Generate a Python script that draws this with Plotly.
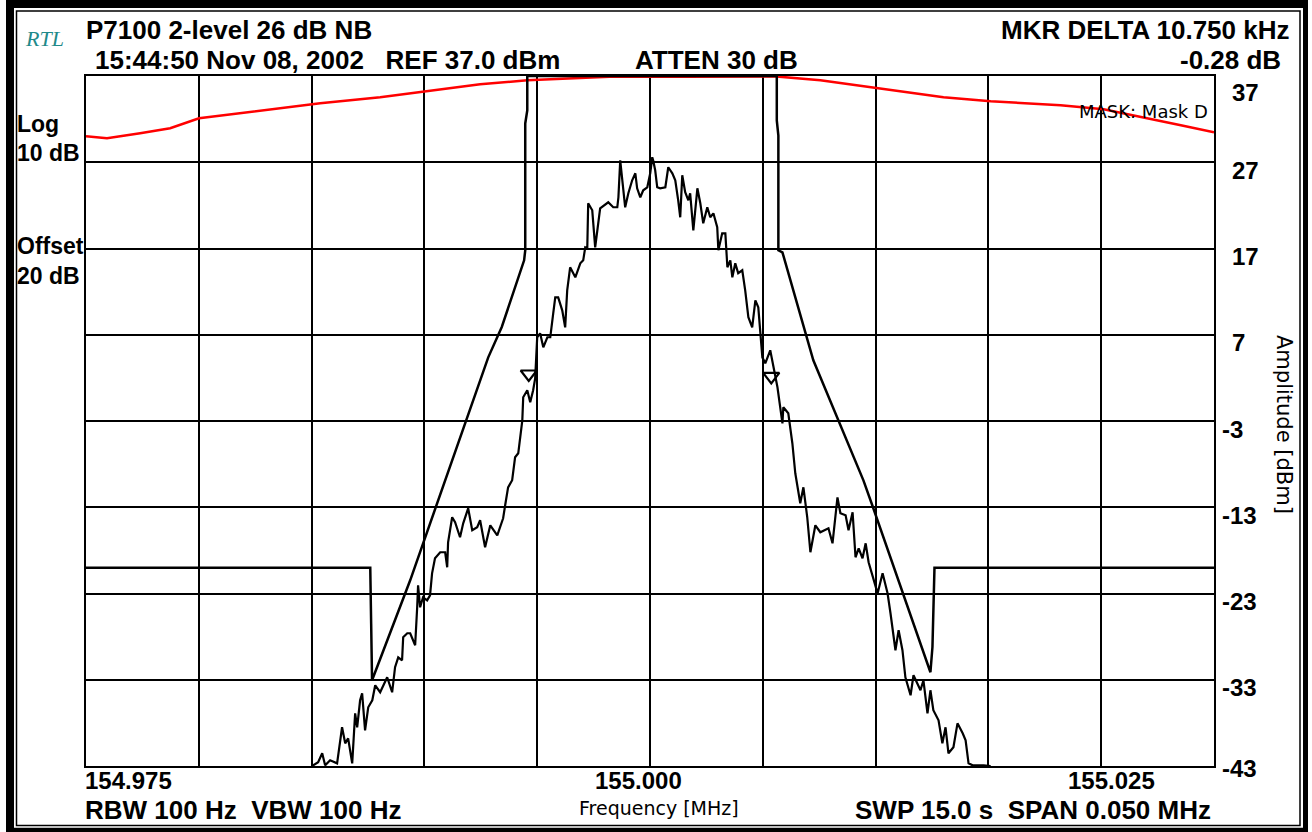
import plotly.graph_objects as go

# Analyzer settings
CENTER_MHZ = 155.000
SPAN_MHZ = 0.050
REF_DBM = 37.0
BOTTOM_DBM = -43.0

# Measured spectrum: offset from centre (kHz) and level (dBm)
trace_khz = [-14.98, -14.71, -14.53, -14.40, -14.18, -13.87, -13.65, -13.51, -13.38, -13.20,
             -13.07, -12.98, -12.85, -12.76, -12.63, -12.49, -12.31, -12.18, -11.96, -11.65,
             -11.43, -11.30, -11.16, -10.99, -10.94, -10.76, -10.63, -10.41, -10.32, -10.28,
             -10.19, -10.06, -9.88, -9.75, -9.66, -9.53, -9.30, -9.08, -8.99, -8.95,
             -8.77, -8.64, -8.42, -8.28, -8.06, -7.88, -7.66, -7.53, -7.31, -7.08,
             -6.77, -6.51, -6.42, -6.29, -6.11, -5.98, -5.84, -5.66, -5.62, -5.44,
             -5.31, -5.18, -5.09, -5.00, -4.87, -4.73, -4.55, -4.42, -4.29, -4.20,
             -4.07, -3.89, -3.76, -3.67, -3.54, -3.31, -3.09, -2.96, -2.87, -2.78,
             -2.74, -2.56, -2.43, -2.29, -2.21, -1.85, -1.63, -1.45, -1.40, -1.32,
             -1.23, -1.18, -1.10, -0.96, -0.79, -0.65, -0.57, -0.43, -0.30, -0.12,
             0.01, 0.10, 0.14, 0.23, 0.32, 0.45, 0.68, 0.81, 0.99, 1.12,
             1.25, 1.34, 1.43, 1.56, 1.70, 1.78, 1.92, 2.10, 2.23, 2.36,
             2.54, 2.67, 2.81, 2.98, 3.03, 3.20, 3.34, 3.43, 3.56, 3.65,
             3.78, 3.91, 4.09, 4.22, 4.36, 4.53, 4.67, 4.80, 4.98, 5.11,
             5.33, 5.47, 5.65, 5.87, 5.91, 6.13, 6.31, 6.44, 6.66, 6.80,
             6.97, 7.11, 7.33, 7.55, 7.91, 8.09, 8.31, 8.44, 8.67, 8.80,
             8.98, 9.11, 9.25, 9.42, 9.56, 9.69, 9.91, 10.09, 10.31, 10.53,
             10.66, 10.88, 11.02, 11.19, 11.32, 11.55, 11.68, 11.99, 12.12, 12.30,
             12.43, 12.56, 12.79, 12.96, 13.10, 13.23, 13.45, 13.63, 13.86, 13.99,
             14.12, 14.30, 14.79, 15.10]
trace_dbm = [-43.0, -42.57, -41.53, -42.92, -42.34, -42.69, -38.51, -40.37, -39.79, -42.69,
             -36.89, -38.51, -35.38, -34.57, -38.86, -36.19, -35.38, -33.64, -34.45, -32.71,
             -34.45, -31.55, -30.40, -30.74, -28.07, -27.61, -27.61, -29.00, -24.60, -22.05,
             -24.60, -23.44, -23.79, -23.21, -20.66, -18.92, -18.22, -18.22, -19.96, -17.06,
             -14.16, -14.74, -16.48, -14.86, -13.12, -15.67, -15.32, -14.51, -17.64, -15.09,
             -16.25, -14.28, -12.77, -10.69, -9.87, -7.21, -6.74, -2.92, -0.25, 0.56,
             -0.83, 0.56, 1.95, 6.71, 7.17, 5.54, 6.71, 6.71, 9.49, 11.34,
             11.34, 9.83, 7.86, 12.15, 14.82, 13.66, 15.28, 15.63, 17.14, 17.03,
             22.24, 21.43, 17.14, 19.92, 21.66, 22.36, 21.78, 21.78, 22.94, 27.23,
             24.56, 23.75, 21.78, 23.40, 24.91, 25.72, 23.98, 22.94, 23.75, 24.10,
             25.72, 27.58, 27.23, 26.07, 24.10, 23.98, 24.10, 26.42, 25.72, 24.91,
             22.59, 20.62, 25.49, 23.52, 22.59, 23.40, 19.11, 23.98, 22.24, 19.92,
             21.78, 20.62, 21.08, 19.46, 16.79, 18.76, 18.76, 14.82, 15.63, 13.66,
             15.28, 14.13, 14.47, 12.15, 9.03, 7.86, 10.99, 10.18, 4.38, 3.69,
             5.20, 3.23, 0.91, -3.27, -1.41, -2.11, -5.58, -9.06, -12.54, -10.69,
             -14.16, -18.22, -15.09, -15.90, -15.44, -17.18, -11.85, -13.70, -13.93, -15.67,
             -13.58, -18.80, -17.76, -18.92, -17.18, -19.38, -21.47, -22.98, -20.66, -22.98,
             -25.29, -29.58, -27.26, -29.58, -32.71, -34.80, -32.48, -34.22, -33.06, -36.89,
             -34.22, -36.54, -37.70, -40.37, -38.51, -41.53, -40.83, -38.05, -39.21, -40.02,
             -42.69, -42.92, -42.92, -43.0]

# Spectral emission mask (Mask D)
mask_khz = [-25.0, -12.40, -12.36, -12.32, -10.63, -9.08, -7.17, -6.57, -5.75, -5.58,
            -5.53, -5.53, -5.44, -5.44, 5.62, 5.62, 5.69, 5.69, 5.87, 7.24,
            9.46, 9.90, 12.43, 12.52, 12.61, 25.0]
mask_dbm = [-20.0, -20.0, -26.5, -33.06, -21.47, -9.88, 4.38, 7.90, 14.13, 15.63,
            16.79, 31.5, 33.0, 37.0, 37.0, 31.86, 30.1, 16.79, 16.56, 4.04,
            -9.88, -13.12, -32.13, -29.2, -20.0, -20.0]

# Upper limit curve
limit_khz = [-25.0, -24.07, -22.60, -21.27, -19.99, -17.28, -14.62, -11.96, -9.92, -7.53,
             -5.44, -1.54, 1.56, 5.60, 7.55, 10.09, 13.01, 15.10, 18.20, 20.11,
             21.75, 23.53, 25.0]
limit_dbm = [30.01, 29.78, 30.36, 30.94, 32.10, 33.02, 33.84, 34.53, 35.23, 36.04,
             36.50, 36.95, 36.90, 36.95, 36.50, 35.57, 34.53, 34.07, 33.60, 33.14,
             32.21, 31.29, 30.47]

# Delta marker pair
marker_khz = [-5.375, 5.375]
marker_dbm = [2.45, 2.17]

freq_labels = ["154.975", "155.000", "155.025"]
freq_label_pos = [154.975, 155.000, 155.025]
amp_ticks = [37, 27, 17, 7, -3, -13, -23, -33, -43]

def to_mhz(khz):
    return [CENTER_MHZ + k / 1000.0 for k in khz]

W, H = 1312, 832
ML, MR, MT, MB = 86, 98, 76, 66
PW, PH = W - ML - MR, H - MT - MB

def px(x):
    return (x - ML) / PW

def py(y):
    return (H - MB - y) / PH

FONT = "Liberation Sans"
NUM = dict(family=FONT, size=24, color="black", weight="bold")
SIDE = dict(family=FONT, size=23, color="black", weight="bold")
BOLD = dict(family=FONT, size=26, color="black", weight="bold")
THIN = "DejaVu Sans"

fig = go.Figure()

fig.add_trace(go.Scatter(x=to_mhz(limit_khz), y=limit_dbm, mode="lines",
                         line=dict(color="#ff0000", width=2.5), hoverinfo="skip"))
fig.add_trace(go.Scatter(x=to_mhz(mask_khz), y=mask_dbm, mode="lines",
                         line=dict(color="black", width=2.5), hoverinfo="skip"))
fig.add_trace(go.Scatter(x=to_mhz(trace_khz), y=trace_dbm, mode="lines",
                         line=dict(color="black", width=2.2), hoverinfo="skip"))
fig.add_trace(go.Scatter(x=to_mhz(marker_khz), y=marker_dbm, mode="markers",
                         marker=dict(symbol="triangle-down-open", size=14,
                                     color="black", line=dict(width=2.2, color="black")),
                         hoverinfo="skip"))

x0 = CENTER_MHZ - SPAN_MHZ / 2
x1 = CENTER_MHZ + SPAN_MHZ / 2
fig.update_xaxes(range=[x0, x1], tickvals=[x0 + i * SPAN_MHZ / 10 for i in range(11)],
                 showticklabels=False, ticks="", showgrid=True, gridcolor="black",
                 gridwidth=2, zeroline=False, showline=True, mirror=True,
                 linecolor="black", linewidth=2)
fig.update_yaxes(range=[BOTTOM_DBM, REF_DBM], tickvals=amp_ticks, showticklabels=False,
                 ticks="", showgrid=True, gridcolor="black", gridwidth=2, zeroline=False,
                 showline=True, mirror=True, linecolor="black", linewidth=2)

ann = []
# amplitude scale on the right
for v in amp_ticks:
    shift = -8
    if v == 37:
        shift = -16
    elif v == -43:
        shift = -2
    ann.append(dict(x=1, xref="paper", y=v, yref="y", text=str(v), showarrow=False,
                    xanchor="left", yanchor="middle", xshift=(6 if v < 0 else 16),
                    yshift=shift, font=NUM))
# frequency labels
xl_anchor = ["left", "center", "right"]
xl_shift = [-2, -12, -58]
for pos, txt, anc, sh in zip(freq_label_pos, freq_labels, xl_anchor, xl_shift):
    ann.append(dict(x=pos, y=0, xref="x", yref="paper", text=txt, showarrow=False,
                    xanchor=anc, yanchor="middle", xshift=sh, yshift=-14,
                    borderpad=0, font=NUM))


def label(text, x, y, anchor="left", font=None, angle=0):
    ann.append(dict(x=px(x), y=py(y), xref="paper", yref="paper", text=text,
                    showarrow=False, xanchor=anchor, yanchor="middle", borderpad=0,
                    font=font or BOLD, textangle=angle))

label("P7100 2-level 26 dB NB", 85, 30)
label("15:44:50 Nov 08, 2002&#160;&#160;&#160;REF 37.0 dBm", 94, 60)
label("ATTEN 30 dB", 634, 60)
label("MKR DELTA 10.750 kHz", 1290, 30, anchor="right")
label("-0.28 dB", 1282, 60, anchor="right")
label("RTL", 24, 38, font=dict(family="Liberation Serif", size=22, color="#1f8a8a", style="italic"))
label("Log", 16, 124, font=SIDE)
label("10 dB", 16, 153, font=SIDE)
label("Offset", 16, 246, font=SIDE)
label("20 dB", 16, 276, font=SIDE)
label("RBW 100 Hz&#160;&#160;VBW 100 Hz", 84, 810)
label("SWP 15.0 s&#160;&#160;SPAN 0.050 MHz", 1212, 810, anchor="right")
label("Frequency [MHz]", 659, 808, anchor="center",
      font=dict(family=THIN, size=19, color="black"))
label("MASK: Mask D", 1209, 111, anchor="right",
      font=dict(family=THIN, size=18, color="black"))
ann.append(dict(x=px(1284), y=py(424), xref="paper", yref="paper", text="Amplitude [dBm]",
                showarrow=False, xanchor="center", yanchor="middle", textangle=90,
                font=dict(family=THIN, size=21, color="black")))

# double frame around the display
def edge(xa, ya, xb, yb, w):
    return dict(type="line", xref="paper", yref="paper", x0=px(xa), y0=py(ya),
                x1=px(xb), y1=py(yb), line=dict(color="black", width=w))

shapes = [
    edge(10, 0, 10, 832, 8),
    edge(1305.5, 0, 1305.5, 832, 5),
    edge(6, 4, 1308, 4, 8),
    edge(6, 830, 1308, 830, 4.5),
    dict(type="rect", xref="paper", yref="paper", x0=px(16.5), x1=px(1300), y0=py(825.5), y1=py(11),
         line=dict(color="black", width=1.5)),
]

fig.update_layout(width=W, height=H, margin=dict(l=ML, r=MR, t=MT, b=MB),
                  paper_bgcolor="white", plot_bgcolor="white", showlegend=False,
                  annotations=ann, shapes=shapes)

fig.write_html("out.html")
